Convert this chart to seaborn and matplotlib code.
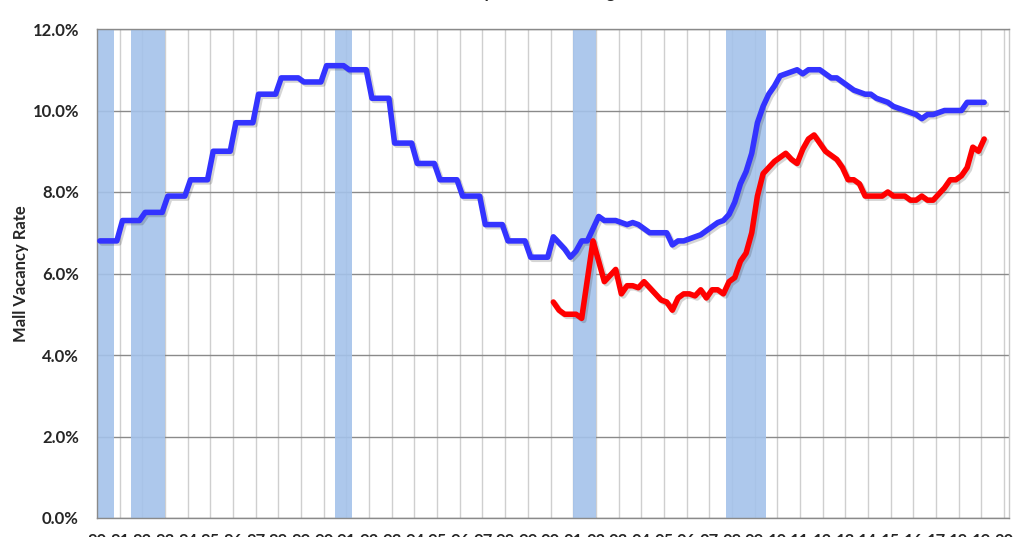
import numpy as np
import pandas as pd
import matplotlib
matplotlib.use("Agg")
import matplotlib.pyplot as plt
import matplotlib.patheffects as pe
from matplotlib.patches import Patch
from matplotlib.lines import Line2D
import seaborn as sns

# ---- data ----
# strip malls: annual values 1980-1999 (plotted as flat quarters)
strip_years = list(range(1980, 2000))
strip_annual = [6.8, 7.3, 7.5, 7.9, 8.3, 9.0, 9.7, 10.4, 10.8, 10.7,
                11.1, 11.0, 10.3, 9.2, 8.7, 8.3, 7.9, 7.2, 6.8, 6.4]

# quarterly values 2000Q1 .. 2019Q1
strip_quarterly = [6.9, 6.75, 6.6, 6.4,
                   6.55, 6.8, 6.8, 7.1,
                   7.4, 7.3, 7.3, 7.3,
                   7.25, 7.2, 7.25, 7.2,
                   7.1, 7.0, 7.0, 7.0,
                   7.0, 6.7, 6.8, 6.8,
                   6.85, 6.9, 6.95, 7.05,
                   7.15, 7.25, 7.3, 7.45,
                   7.75, 8.2, 8.5, 8.95,
                   9.7, 10.1, 10.4, 10.6,
                   10.85, 10.9, 10.95, 11.0,
                   10.9, 11.0, 11.0, 11.0,
                   10.9, 10.8, 10.8, 10.7,
                   10.6, 10.5, 10.45, 10.4,
                   10.4, 10.3, 10.25, 10.2,
                   10.1, 10.05, 10.0, 9.95,
                   9.9, 9.8, 9.9, 9.9,
                   9.95, 10.0, 10.0, 10.0,
                   10.0, 10.2, 10.2, 10.2,
                   10.2]

regional_quarterly = [5.3, 5.1, 5.0, 5.0,
                      5.0, 4.9, 5.85, 6.8,
                      6.3, 5.8, 5.95, 6.1,
                      5.5, 5.7, 5.7, 5.65,
                      5.8, 5.65, 5.5, 5.35,
                      5.3, 5.1, 5.4, 5.5,
                      5.5, 5.45, 5.6, 5.4,
                      5.6, 5.6, 5.5, 5.8,
                      5.9, 6.3, 6.5, 7.0,
                      7.9, 8.45, 8.6, 8.75,
                      8.85, 8.95, 8.8, 8.7,
                      9.05, 9.3, 9.4, 9.2,
                      9.0, 8.9, 8.8, 8.6,
                      8.3, 8.3, 8.2, 7.9,
                      7.9, 7.9, 7.9, 8.0,
                      7.9, 7.9, 7.9, 7.8,
                      7.8, 7.9, 7.8, 7.8,
                      7.95, 8.1, 8.3, 8.3,
                      8.4, 8.6, 9.1, 9.0,
                      9.3]

rec_start = [1980.0, 1981.5, 1990.5, 2001.0, 2007.75]
rec_end = [1980.75, 1983.0, 1991.25, 2002.0, 2009.5]

tick_years = list(range(1980, 2021))

# ---- build long table: quarter midpoints ----
def quarter_x(first_year, n):
    return [first_year + i * 0.25 + 0.125 for i in range(n)]

strip_vals = list(np.repeat(strip_annual, 4)) + strip_quarterly
strip_x = quarter_x(1980, len(strip_vals))
reg_x = quarter_x(2000, len(regional_quarterly))

df = pd.concat([
    pd.DataFrame({"t": strip_x, "rate": strip_vals, "series": "Strip Malls"}),
    pd.DataFrame({"t": reg_x, "rate": regional_quarterly, "series": "Regional Malls"}),
], ignore_index=True)

colors = {"Strip Malls": "#3333ff", "Regional Malls": "#ff0000"}

# ---- plot ----
sns.set_theme(style="white")
plt.rcParams["font.family"] = ["Lato", "DejaVu Sans"]

fig = plt.figure(figsize=(10.24, 5.37), dpi=100)
ax = fig.add_axes([97 / 1024, 19 / 537, 912 / 1024, 489 / 537])

for s, e in zip(rec_start, rec_end):
    ax.axvspan(s, e, color="#a4c2ea", alpha=0.9, lw=0, zorder=1)

sns.lineplot(data=df, x="t", y="rate", hue="series", palette=colors,
             estimator=None, sort=False, linewidth=4.0, legend=False,
             ax=ax, zorder=3)
for line in ax.lines:
    line.set_solid_joinstyle("round")
    line.set_solid_capstyle("round")
    line.set_path_effects([pe.SimpleLineShadow(offset=(1.5, -1.5), alpha=0.18),
                           pe.Normal()])

ax.set_xlim(1980, 2020.22)
ax.set_ylim(0, 12)
ax.set_xticks(tick_years)
ax.set_xticklabels([f"{y % 100:02d}" for y in tick_years])
ax.set_yticks(range(0, 13, 2))
ax.set_yticklabels([f"{v:.1f}%" for v in range(0, 13, 2)])

ax.set_axisbelow(True)
ax.grid(axis="y", color="#8a8a8a", lw=1.0)
ax.grid(axis="x", color="#cfcfcf", lw=1.0)

for side in ["left", "bottom", "top"]:
    ax.spines[side].set_color("#8a8a8a")
ax.spines["right"].set_color("#c8c8c8")
for sp in ax.spines.values():
    sp.set_linewidth(1.0)

ax.tick_params(axis="both", which="major", direction="out", length=5,
               color="#8a8a8a", width=1)
ax.tick_params(axis="x", pad=6, labelsize=12)
ax.tick_params(axis="y", pad=8, labelsize=12)
for lbl in ax.get_xticklabels() + ax.get_yticklabels():
    lbl.set_fontweight("bold")

ax.set_xlabel("")
ax.set_ylabel("Mall Vacancy Rate", fontsize=12, fontweight="bold")
ax.yaxis.set_label_coords(-0.075, 0.5)

handles = [Patch(facecolor="#a4c2ea", edgecolor="none", label="Recession"),
           Line2D([], [], color=colors["Strip Malls"], lw=4.0, label="Strip Malls"),
           Line2D([], [], color=colors["Regional Malls"], lw=4.0, label="Regional Malls")]
leg = fig.legend(handles=handles, loc="lower center", ncol=3, frameon=False,
                 bbox_to_anchor=(0.49, 1 - 9.5 / 537), borderpad=0,
                 columnspacing=1.3, handlelength=1.4, handletextpad=0.25,
                 prop={"weight": "bold", "size": 12})

fig.savefig("out.png", dpi=100)
